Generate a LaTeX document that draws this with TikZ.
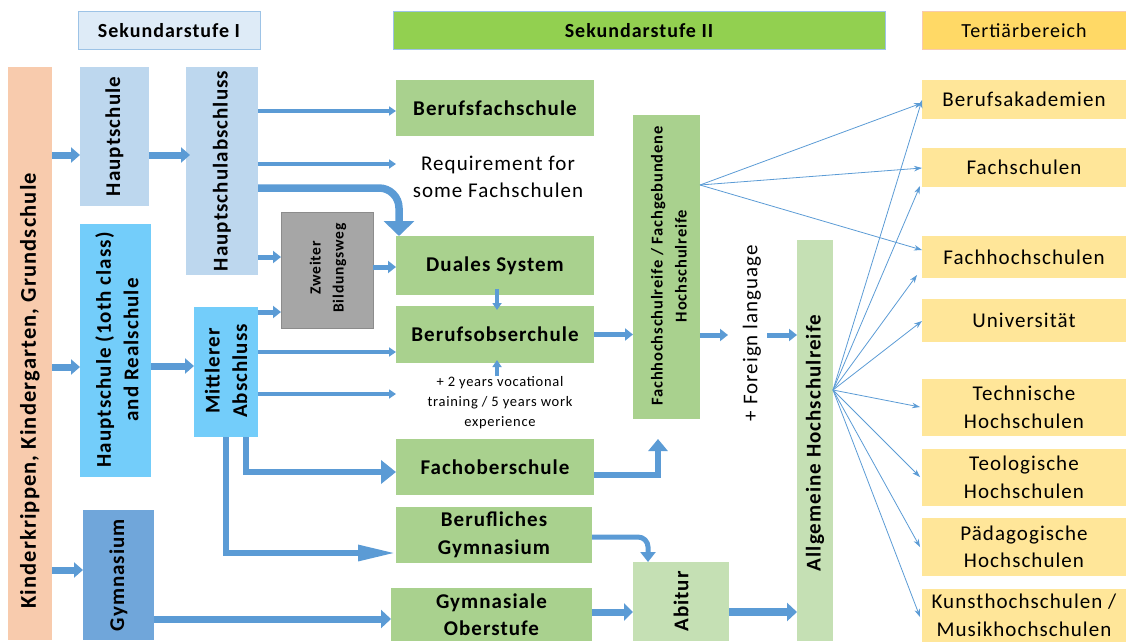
\documentclass[tikz,border=0pt]{standalone}
\usepackage{fontspec}
\setmainfont{Carlito}[LetterSpace=5]
\usetikzlibrary{arrows.meta}
\definecolor{peach}{HTML}{F8CBAD}
\definecolor{lblue}{HTML}{BDD7EE}
\definecolor{skyb}{HTML}{73CDFA}
\definecolor{gymb}{HTML}{70A6DA}
\definecolor{greyb}{HTML}{A6A6A6}
\definecolor{greenb}{HTML}{A9D18E}
\definecolor{lgreen}{HTML}{C5E0B4}
\definecolor{hgreen}{HTML}{92D050}
\definecolor{hblue}{HTML}{DEEBF7}
\definecolor{hborder}{HTML}{9DC3E6}
\definecolor{hgold}{HTML}{FFD966}
\definecolor{tgold}{HTML}{FFE699}
\definecolor{ablue}{HTML}{5B9BD5}
\begin{document}
\begin{tikzpicture}[x=1pt,y=-1pt,
  bx/.style={inner sep=0pt, outer sep=0pt, draw=none},
  tb/.style={font=\bfseries\fontsize{21}{27.5}\selectfont, align=center, inner sep=0pt},
  tr/.style={font=\fontsize{21}{27.5}\selectfont, align=center, inner sep=0pt},
  hd/.style={font=\bfseries\fontsize{20}{24}\selectfont, inner sep=0pt},
  bigarr/.style={draw=ablue, line width=7pt, -{Triangle[width=15pt,length=9pt]}},
  medarr/.style={draw=ablue, line width=5pt, -{Triangle[width=12pt,length=8pt]}},
  smallarr/.style={draw=ablue, line width=3.5pt, -{Triangle[width=9pt,length=7pt]}},
  thinarr/.style={draw=ablue, line width=0.8pt, -{Stealth[length=8pt,width=5.5pt]}}]
\useasboundingbox (0,0) rectangle (1126,642);

% headers
\node[bx, fill=hblue, draw=hborder, line width=1pt, minimum width=182, minimum height=38] (sekA) at (169,31) {};
\node[hd] at (sekA) {Sekundarstufe I};
\node[bx, fill=hgreen, draw=hborder, line width=1pt, minimum width=492, minimum height=38] (sekB) at (639,31) {};
\node[hd] at (sekB) {Sekundarstufe II};
\node[bx, fill=hgold, draw=peach, line width=1pt, minimum width=204, minimum height=38] (tert) at (1024,31) {};
\node[font=\fontsize{20}{24}\selectfont, inner sep=0pt] at (tert) {Tertiärbereich};

% left column
\node[bx, fill=peach, minimum width=44, minimum height=573] (kg) at (30,353.5) {};
\node[tb, rotate=90, font=\bfseries\fontsize{22.5}{27.5}\selectfont] at (30,391) {Kinderkrippen, Kindergarten, Grundschule};
\node[bx, fill=lblue, minimum width=69, minimum height=139] (hs) at (114.5,136.5) {};
\node[tb, rotate=90] at (hs) {Hauptschule};
\node[bx, fill=lblue, minimum width=72, minimum height=208] (hsa) at (222,171) {};
\node[tb, rotate=90] at (hsa) {Hauptschulabschluss};
\node[bx, fill=skyb, minimum width=71, minimum height=253] (hsr) at (115.5,350.5) {};
\node[tb, rotate=90] at (117,350) {Hauptschule (1oth class)\\and Realschule};
\node[bx, fill=skyb, minimum width=64, minimum height=130] (mab) at (226,372) {};
\node[tb, rotate=90] at (226,371) {Mittlerer\\Abschluss};
\node[bx, fill=gymb, minimum width=71, minimum height=130] (gym) at (118.5,575) {};
\node[tb, rotate=90] at (gym) {Gymnasium};
\node[bx, fill=greyb, draw=gray!90, minimum width=92, minimum height=116] (zb) at (327,270) {};
\node[tb, rotate=90, font=\bfseries\fontsize{15.5}{23}\selectfont] at (328,268) {Zweiter\\Bildungsweg};

% middle column
\node[bx, fill=greenb, minimum width=198, minimum height=56] (bfs) at (495,108) {};
\node[tb] at (bfs) {Berufsfachschule};
\node[tr] (req) at (498,177) {Requirement for\\some Fachschulen};
\node[bx, fill=greenb, minimum width=198, minimum height=59] (ds) at (495,265.5) {};
\node[tb] at (ds) {Duales System};
\node[bx, fill=greenb, minimum width=198, minimum height=57] (bos) at (495,334.5) {};
\node[tb] at (bos) {Berufsobserchule};
\node[tr, font=\fontsize{14.5}{20}\selectfont] (note) at (500,403) {+ 2 years vocational\\training / 5 years work\\experience};
\node[bx, fill=greenb, minimum width=198, minimum height=56] (fos) at (495,467) {};
\node[tb] at (fos) {Fachoberschule};
\node[bx, fill=greenb, minimum width=196, minimum height=56] (bg) at (494,535) {};
\node[tb] at (bg) {Berufliches\\Gymnasium};
\node[bx, fill=greenb, minimum width=201, minimum height=53] (go) at (491.5,614.5) {};
\node[tb] at (go) {Gymnasiale\\Oberstufe};

\node[bx, fill=greenb, minimum width=67, minimum height=304] (fhr) at (666.5,267) {};
\node[tb, rotate=90, font=\bfseries\fontsize{16.5}{24}\selectfont] at (669,266) {Fachhochschulreife / Fachgebundene\\Hochschulreife};
\node[tr, rotate=90] (fl) at (752,333) {+ Foreign language};
\node[bx, fill=lgreen, minimum width=96, minimum height=79] (ab) at (681,601.5) {};
\node[tb, rotate=90] at (ab) {Abitur};
\node[bx, fill=lgreen, minimum width=36, minimum height=401] (ahr) at (815,440.5) {};
\node[tb, rotate=90] at (815,443) {Allgemeine Hochschulreife};

% tertiary
\node[bx, fill=tgold, minimum width=204, minimum height=39] (t1) at (1024,99.5) {};
\node[tr] at (t1) {Berufsakademien};
\node[bx, fill=tgold, minimum width=204, minimum height=39] (t2) at (1024,167.5) {};
\node[tr] at (t2) {Fachschulen};
\node[bx, fill=tgold, minimum width=204, minimum height=42] (t3) at (1024,257) {};
\node[tr] at (t3) {Fachhochschulen};
\node[bx, fill=tgold, minimum width=204, minimum height=43] (t4) at (1024,320.5) {};
\node[tr] at (t4) {Universität};
\node[bx, fill=tgold, minimum width=204, minimum height=57] (t5) at (1024,407.5) {};
\node[tr] at (t5) {Technische\\Hochschulen};
\node[bx, fill=tgold, minimum width=204, minimum height=57] (t6) at (1024,477.5) {};
\node[tr] at (t6) {Teologische\\Hochschulen};
\node[bx, fill=tgold, minimum width=204, minimum height=58] (t7) at (1024,547) {};
\node[tr] at (t7) {Pädagogische\\Hochschulen};
\node[bx, fill=tgold, minimum width=204, minimum height=53] (t8) at (1024,615.5) {};
\node[tr] at (t8) {Kunsthochschulen /\\Musikhochschulen};

% free ends
\coordinate (reqin) at (396,164);
\coordinate (notein) at (396,394);
\coordinate (notetop) at (497,376);
\coordinate (flin) at (728,335);
\coordinate (flout) at (767,335);
\coordinate (fhrin) at (658,439);

% block arrows
\draw[bigarr] (kg.east |- 0,155) -- (hs.west |- 0,155);
\draw[bigarr] (hs.east |- 0,155) -- (190,155);
\draw[smallarr] (hsa.east |- 0,111) -- (bfs.west |- 0,111);
\draw[smallarr] (hsa.east |- 0,164) -- (reqin);
\draw[draw=ablue, line width=7.5pt, rounded corners=20pt, -{Triangle[width=30pt,length=15pt]}] (hsa.east |- 0,188) -| (ds.north -| 399,0);
\draw[medarr] (hsa.east |- 0,257) -- (zb.west |- 0,257);
\draw[medarr] (zb.east |- 0,267) -- (ds.west |- 0,267);
\draw[medarr] (mab.east |- 0,312) -- (zb.west |- 0,312);
\draw[bigarr] (kg.east |- 0,367) -- (hsr.west |- 0,367);
\draw[bigarr] (hsr.east |- 0,366) -- (mab.west |- 0,366);
\draw[smallarr] (mab.east |- 0,352) -- (bos.west |- 0,352);
\draw[smallarr] (mab.east |- 0,394) -- (notein);
\draw[draw=ablue, line width=6pt, -{Triangle[width=23pt,length=15pt]}] (mab.south -| 246,0) |- (fos.west |- 0,472);
\draw[draw=ablue, line width=6pt, -{Triangle[width=15pt,length=38pt]}] (mab.south -| 226,0) |- (bg.west |- 0,553);
\draw[bigarr] (kg.east |- 0,570) -- (gym.west |- 0,570);
\draw[draw=ablue, line width=7pt, -{Triangle[width=18pt,length=10pt]}] (gym.east |- 0,619) -- (go.west |- 0,619);
\draw[smallarr] ([yshift=6pt]ds.south -| 497,0) -- ([yshift=-4pt]bos.north -| 497,0);
\draw[smallarr] (notetop) -- ([yshift=3pt]bos.south -| 497,0);
\draw[medarr] (bos.east) -- (fhr.west |- bos.east);
\draw[medarr] (fhr.east |- 0,335) -- (flin);
\draw[medarr] (flout) -- (ahr.west |- 0,335);
\draw[draw=ablue, line width=6pt, -{Triangle[width=19pt,length=12pt]}] (fos.east |- 0,475) -| (fhrin);
\draw[draw=ablue, line width=5pt, rounded corners=10pt, -{Triangle[width=15pt,length=10pt]}] (bg.east |- 0,537) -| (ab.north -| 648,0);
\draw[draw=ablue, line width=7pt, -{Triangle[width=17pt,length=9pt]}] (go.east |- 0,612) -- (ab.west |- 0,612);
\draw[draw=ablue, line width=8pt, -{Triangle[width=18pt,length=10pt]}] (ab.east |- 0,612) -- (ahr.west |- 0,612);

% thin fan arrows
\draw[thinarr] (fhr.east |- 0,185) -- (t1.west |- 0,103);
\draw[thinarr] (fhr.east |- 0,185) -- (t2.west |- 0,168);
\draw[thinarr] (fhr.east |- 0,185) -- (t3.west |- 0,250);
\draw[thinarr] (ahr.east |- 0,390) -- (t1.west |- 0,100);
\draw[thinarr] (ahr.east |- 0,390) -- ([xshift=-2pt]t2.west |- 0,186);
\draw[thinarr] (ahr.east |- 0,390) -- ([xshift=-5pt]t3.west |- 0,275);
\draw[thinarr] (ahr.east |- 0,390) -- (t4.west |- 0,321);
\draw[thinarr] (ahr.east |- 0,390) -- ([xshift=-2pt]t5.west |- 0,407);
\draw[thinarr] (ahr.east |- 0,390) -- ([xshift=-2pt]t6.west |- 0,477);
\draw[thinarr] (ahr.east |- 0,390) -- ([xshift=-2pt]t7.west |- 0,547);
\draw[thinarr] (ahr.east |- 0,390) -- ([xshift=-2pt]t8.west |- 0,617);
\end{tikzpicture}
\end{document}
